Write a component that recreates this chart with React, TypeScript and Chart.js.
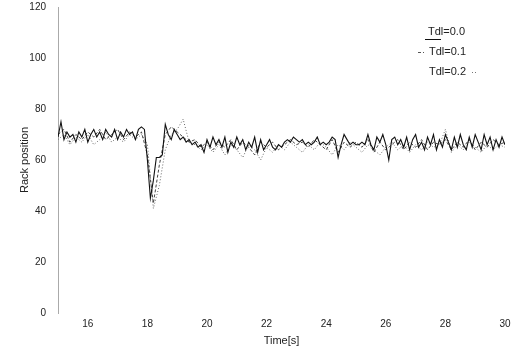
import React, { useEffect, useRef } from "react";
import { Chart, registerables } from "chart.js";

Chart.register(...registerables);

// Sampling of the recorded rack position traces (seconds)
const T_START = 15;
const FINE_STEP = 0.1;
const COARSE_STEP = 0.2;

const X_TICKS = [16, 18, 20, 22, 24, 26, 28, 30];
const Y_TICKS = [0, 20, 40, 60, 80, 100, 120];
const SERIES_LABELS = ["Tdl=0.0", "Tdl=0.1", "Tdl=0.2"];

// Tdl = 0.0, sampled every 0.1 s from 15.0 s to 30.0 s
const rackTdl00 = [
  69, 75, 68, 71, 69, 70, 67, 71, 69, 72,
  67, 70, 72, 69, 71, 68, 72, 70, 69, 72,
  68, 71, 69, 72, 70, 71, 68, 72, 73, 72,
  60, 45, 52, 61, 61, 62, 74, 70, 68, 72,
  70, 68, 69, 67, 68, 66, 67, 65, 66, 63,
  68, 65, 69, 66, 68, 65, 69, 63, 67, 65,
  69, 66, 68, 64, 67, 65, 69, 63, 68, 64,
  66, 68, 65, 64, 66, 65, 67, 68, 67, 69,
  68, 67, 68, 66, 67, 66, 67, 69, 66, 67,
  66, 67, 69, 68, 61, 66, 70, 68, 66, 67,
  66, 66, 67, 66, 70, 66, 64, 69, 67, 70,
  66, 60, 68, 69, 66, 68, 65, 69, 64, 68,
  70, 65, 67, 64, 69, 66, 70, 64, 68, 65,
  70, 67, 64, 69, 65, 70, 66, 64, 69, 65,
  70, 67, 64, 70, 66, 69, 64, 68, 65, 69,
  66,
];

// Tdl = 0.1, sampled every 0.2 s from 15.0 s to 30.0 s
const rackTdl01 = [
  70, 72, 67, 70, 68, 71, 69, 72, 68, 70,
  72, 68, 71, 69, 71, 62, 43, 58, 70, 73,
  71, 69, 67, 68, 65, 67, 64, 67, 65, 68,
  64, 67, 65, 62, 67, 65, 67, 64, 66, 68,
  66, 67, 65, 68, 66, 64, 68, 63, 67, 65,
  67, 65, 68, 63, 67, 64, 66, 68, 64, 67,
  65, 68, 64, 67, 66, 68, 64, 67, 65, 68,
  64, 67, 65, 68, 66, 67,
];

// Tdl = 0.2, sampled every 0.2 s from 15.0 s to 30.0 s
const rackTdl02 = [
  68, 70, 66, 69, 67, 70, 66, 68, 71, 67,
  69, 67, 70, 68, 70, 66, 41, 50, 64, 70,
  72, 76, 67, 66, 64, 66, 63, 66, 62, 66,
  64, 61, 66, 64, 60, 65, 63, 66, 64, 67,
  65, 63, 66, 64, 67, 65, 62, 66, 64, 67,
  65, 63, 66, 64, 62, 65, 67, 64, 66, 63,
  66, 64, 67, 65, 66, 72, 63, 66, 64, 67,
  65, 63, 66, 64, 66, 65,
];

const toPoints = (values: number[], step: number) =>
  values.map((v, i) => ({ x: Math.round((T_START + i * step) * 100) / 100, y: v }));

const FONT_FAMILY = '"Liberation Sans", Arial, Helvetica, sans-serif';

// Small legend in the upper right corner, each entry with a short line sample
const cornerLegend = {
  id: "cornerLegend",
  afterDatasetsDraw(chart: any) {
    const ctx = chart.ctx as CanvasRenderingContext2D;
    ctx.save();
    ctx.font = `11px ${FONT_FAMILY}`;
    ctx.fillStyle = "#222";
    ctx.textBaseline = "middle";
    ctx.textAlign = "left";
    const rows = [
      { text: SERIES_LABELS[0], x: 428, y: 32 },
      { text: SERIES_LABELS[1], x: 429, y: 52 },
      { text: SERIES_LABELS[2], x: 429, y: 72 },
    ];
    rows.forEach((r) => ctx.fillText(r.text, r.x, r.y));

    ctx.lineWidth = 1;
    // solid sample under the first entry
    ctx.strokeStyle = "#111";
    ctx.setLineDash([]);
    ctx.beginPath();
    ctx.moveTo(425, 39.5);
    ctx.lineTo(441, 39.5);
    ctx.stroke();
    // dashed sample before the second entry
    ctx.strokeStyle = "#555";
    ctx.setLineDash([3, 2]);
    ctx.beginPath();
    ctx.moveTo(418, 52.5);
    ctx.lineTo(424, 52.5);
    ctx.stroke();
    // dotted sample after the third entry
    ctx.strokeStyle = "#777";
    ctx.setLineDash([1, 2]);
    ctx.beginPath();
    ctx.moveTo(472, 72.5);
    ctx.lineTo(477, 72.5);
    ctx.stroke();
    ctx.restore();
  },
};

export default function App() {
  const canvasRef = useRef<HTMLCanvasElement | null>(null);

  useEffect(() => {
    if (!canvasRef.current) return;
    const chart = new Chart(canvasRef.current, {
      type: "line",
      data: {
        datasets: [
          {
            label: SERIES_LABELS[0],
            data: toPoints(rackTdl00, FINE_STEP),
            borderColor: "#111",
            borderWidth: 1.1,
            pointRadius: 0,
            tension: 0,
            fill: false,
          },
          {
            label: SERIES_LABELS[1],
            data: toPoints(rackTdl01, COARSE_STEP),
            borderColor: "#444",
            borderWidth: 1,
            borderDash: [3, 2],
            pointRadius: 0,
            tension: 0,
            fill: false,
          },
          {
            label: SERIES_LABELS[2],
            data: toPoints(rackTdl02, COARSE_STEP),
            borderColor: "#666",
            borderWidth: 1,
            borderDash: [1, 2],
            pointRadius: 0,
            tension: 0,
            fill: false,
          },
        ],
      },
      options: {
        animation: false,
        responsive: false,
        layout: { padding: { top: 7, right: 17, left: 0, bottom: 0 } },
        plugins: {
          legend: { display: false },
          tooltip: { enabled: false },
        },
        scales: {
          x: {
            type: "linear",
            min: 15,
            max: 30,
            grid: { display: false, drawTicks: false },
            border: { display: false },
            afterBuildTicks: (scale: any) => {
              scale.ticks = X_TICKS.map((v) => ({ value: v }));
            },
            afterFit: (scale: any) => {
              scale.height = 42;
              scale.paddingLeft = 0;
              scale.paddingRight = 0;
            },
            ticks: {
              padding: 5,
              color: "#222",
              maxRotation: 0,
              font: { family: FONT_FAMILY, size: 10 },
            },
            title: {
              display: true,
              text: "Time[s]",
              color: "#222",
              padding: { top: 0, bottom: 7 },
              font: { family: FONT_FAMILY, size: 11 },
            },
          },
          y: {
            type: "linear",
            min: 0,
            max: 120,
            grid: { display: false, drawTicks: false },
            border: { display: true, color: "#aaa", width: 1 },
            afterBuildTicks: (scale: any) => {
              scale.ticks = Y_TICKS.map((v) => ({ value: v }));
            },
            afterFit: (scale: any) => {
              scale.width = 58;
              scale.paddingTop = 0;
              scale.paddingBottom = 0;
            },
            ticks: {
              padding: 12,
              color: "#222",
              font: { family: FONT_FAMILY, size: 10 },
            },
            title: {
              display: true,
              text: "Rack position",
              color: "#222",
              padding: { top: 18, bottom: 0 },
              font: { family: FONT_FAMILY, size: 11 },
            },
          },
        },
      },
      plugins: [cornerLegend],
    });
    return () => chart.destroy();
  }, []);

  return (
    <div style={{ position: "absolute", left: 0, top: 0, width: 522, height: 355, background: "#fff" }}>
      <canvas ref={canvasRef} width={522} height={355} />
    </div>
  );
}
